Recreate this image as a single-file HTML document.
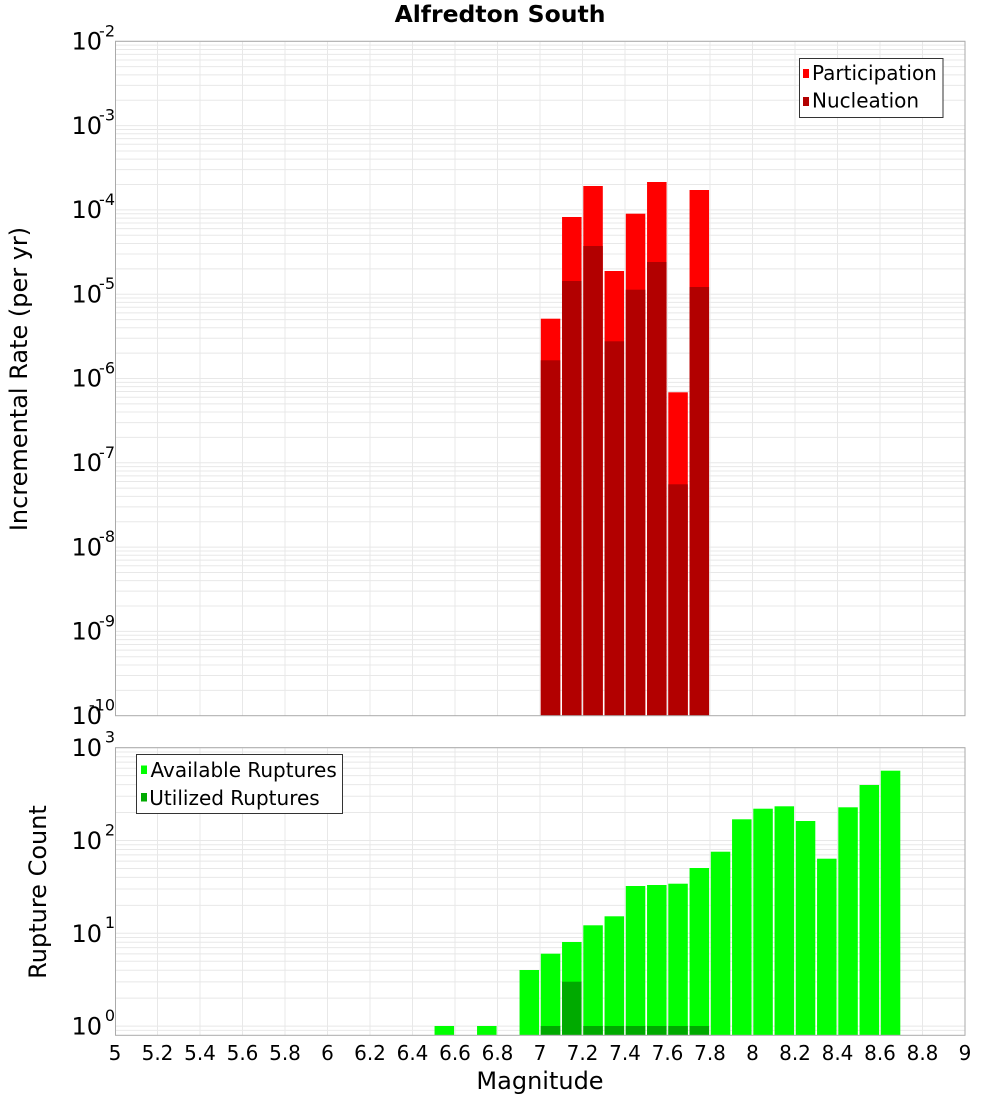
<!DOCTYPE html>
<html><head><meta charset="utf-8"><style>
html,body{margin:0;padding:0;background:#fff;}
svg{display:block;}
text{font-family:"DejaVu Sans","Liberation Sans",sans-serif;fill:#000;}
</style></head><body>
<svg width="1000" height="1100" viewBox="0 0 1000 1100" xmlns="http://www.w3.org/2000/svg">
<defs>
<g id="decT" stroke="#e8e8e8" stroke-width="1">
<line x1="115" x2="965" y1="0" y2="0"/>
<line x1="115" x2="965" y1="3.86" y2="3.86"/>
<line x1="115" x2="965" y1="8.17" y2="8.17"/>
<line x1="115" x2="965" y1="13.06" y2="13.06"/>
<line x1="115" x2="965" y1="18.70" y2="18.70"/>
<line x1="115" x2="965" y1="25.38" y2="25.38"/>
<line x1="115" x2="965" y1="33.55" y2="33.55"/>
<line x1="115" x2="965" y1="44.08" y2="44.08"/>
<line x1="115" x2="965" y1="58.92" y2="58.92"/>
</g>
<g id="decB" stroke="#e8e8e8" stroke-width="1">
<line x1="115" x2="965" y1="0" y2="0"/>
<line x1="115" x2="965" y1="4.25" y2="4.25"/>
<line x1="115" x2="965" y1="8.99" y2="8.99"/>
<line x1="115" x2="965" y1="14.38" y2="14.38"/>
<line x1="115" x2="965" y1="20.59" y2="20.59"/>
<line x1="115" x2="965" y1="27.94" y2="27.94"/>
<line x1="115" x2="965" y1="36.93" y2="36.93"/>
<line x1="115" x2="965" y1="48.52" y2="48.52"/>
<line x1="115" x2="965" y1="64.86" y2="64.86"/>
</g>
</defs>

<rect x="0" y="0" width="1000" height="1100" fill="#fff"/>

<!-- title -->
<text x="500" y="22" font-size="23.5" font-weight="bold" text-anchor="middle">Alfredton South</text>

<!-- top plot grid -->
<use href="#decT" y="41.3"/>
<use href="#decT" y="125.6"/>
<use href="#decT" y="209.9"/>
<use href="#decT" y="294.2"/>
<use href="#decT" y="378.5"/>
<use href="#decT" y="462.8"/>
<use href="#decT" y="547.1"/>
<use href="#decT" y="631.4"/>

<!-- bottom plot grid -->
<use href="#decB" y="747.7"/>
<use href="#decB" y="840.5"/>
<use href="#decB" y="933.3"/>
<g stroke="#e8e8e8" stroke-width="1">
<line x1="115" x2="965" y1="1026.1" y2="1026.1"/>
<line x1="115" x2="965" y1="1030.35" y2="1030.35"/>
</g>

<!-- vertical grid -->
<g stroke="#e8e8e8" stroke-width="1">
<path d="M157.5 41.3V715.7M200 41.3V715.7M242.5 41.3V715.7M285 41.3V715.7M327.5 41.3V715.7M370 41.3V715.7M412.5 41.3V715.7M455 41.3V715.7M497.5 41.3V715.7M540 41.3V715.7M582.5 41.3V715.7M625 41.3V715.7M667.5 41.3V715.7M710 41.3V715.7M752.5 41.3V715.7M795 41.3V715.7M837.5 41.3V715.7M880 41.3V715.7M922.5 41.3V715.7"/>
<path d="M157.5 747.7V1035.3M200 747.7V1035.3M242.5 747.7V1035.3M285 747.7V1035.3M327.5 747.7V1035.3M370 747.7V1035.3M412.5 747.7V1035.3M455 747.7V1035.3M497.5 747.7V1035.3M540 747.7V1035.3M582.5 747.7V1035.3M625 747.7V1035.3M667.5 747.7V1035.3M710 747.7V1035.3M752.5 747.7V1035.3M795 747.7V1035.3M837.5 747.7V1035.3M880 747.7V1035.3M922.5 747.7V1035.3"/>
</g>

<!-- top bars: participation -->
<g fill="#ff0000">
<rect x="540.8" y="318.7" width="19.5" height="397"/>
<rect x="562.05" y="217" width="19.5" height="498.7"/>
<rect x="583.3" y="186" width="19.5" height="529.7"/>
<rect x="604.55" y="271" width="19.5" height="444.7"/>
<rect x="625.8" y="213.7" width="19.5" height="502"/>
<rect x="647.05" y="182" width="19.5" height="533.7"/>
<rect x="668.3" y="392.3" width="19.5" height="323.4"/>
<rect x="689.55" y="190" width="19.5" height="525.7"/>
</g>
<!-- nucleation -->
<g fill="#b20000">
<rect x="540.8" y="360.3" width="19.5" height="355.4"/>
<rect x="562.05" y="281" width="19.5" height="434.7"/>
<rect x="583.3" y="246" width="19.5" height="469.7"/>
<rect x="604.55" y="341.3" width="19.5" height="374.4"/>
<rect x="625.8" y="289.7" width="19.5" height="426"/>
<rect x="647.05" y="262" width="19.5" height="453.7"/>
<rect x="668.3" y="484.3" width="19.5" height="231.4"/>
<rect x="689.55" y="287" width="19.5" height="428.7"/>
</g>

<!-- bottom bars: available -->
<g fill="#00ff00">
<rect x="434.55" y="1026" width="19.5" height="9.3"/>
<rect x="477.05" y="1026" width="19.5" height="9.3"/>
<rect x="519.55" y="970" width="19.5" height="65.3"/>
<rect x="540.8" y="953.7" width="19.5" height="81.6"/>
<rect x="562.05" y="942" width="19.5" height="93.3"/>
<rect x="583.3" y="925.3" width="19.5" height="110"/>
<rect x="604.55" y="916.3" width="19.5" height="119"/>
<rect x="625.8" y="886" width="19.5" height="149.3"/>
<rect x="647.05" y="885" width="19.5" height="150.3"/>
<rect x="668.3" y="883.7" width="19.5" height="151.6"/>
<rect x="689.55" y="868" width="19.5" height="167.3"/>
<rect x="710.8" y="851.7" width="19.5" height="183.6"/>
<rect x="732.05" y="819.3" width="19.5" height="216"/>
<rect x="753.3" y="808.7" width="19.5" height="226.6"/>
<rect x="774.55" y="806.3" width="19.5" height="229"/>
<rect x="795.8" y="821" width="19.5" height="214.3"/>
<rect x="817.05" y="858.7" width="19.5" height="176.6"/>
<rect x="838.3" y="807.3" width="19.5" height="228"/>
<rect x="859.55" y="785" width="19.5" height="250.3"/>
<rect x="880.8" y="770.7" width="19.5" height="264.6"/>
</g>
<!-- utilized -->
<g fill="#00aa00">
<rect x="540.8" y="1026" width="19.5" height="9.3"/>
<rect x="562.05" y="981.7" width="19.5" height="53.6"/>
<rect x="583.3" y="1026" width="19.5" height="9.3"/>
<rect x="604.55" y="1026" width="19.5" height="9.3"/>
<rect x="625.8" y="1026" width="19.5" height="9.3"/>
<rect x="647.05" y="1026" width="19.5" height="9.3"/>
<rect x="668.3" y="1026" width="19.5" height="9.3"/>
<rect x="689.55" y="1026" width="19.5" height="9.3"/>
</g>

<!-- plot borders -->
<rect x="115.5" y="41.3" width="849.5" height="674.4" fill="none" stroke="#aaaaaa" stroke-width="1"/>
<rect x="115.5" y="747.7" width="849.5" height="287.6" fill="none" stroke="#aaaaaa" stroke-width="1"/>

<!-- top legend -->
<rect x="799.5" y="58.5" width="143.5" height="59" fill="#fff" stroke="#333" stroke-width="1"/>
<rect x="803" y="69" width="6" height="9" fill="#ff0000"/>
<rect x="803" y="97" width="6" height="9" fill="#b20000"/>
<text x="812" y="80" font-size="20">Participation</text>
<text x="812" y="107.5" font-size="20">Nucleation</text>

<!-- bottom legend -->
<rect x="136.5" y="754.5" width="206" height="59" fill="#fff" stroke="#333" stroke-width="1"/>
<rect x="141" y="765.5" width="6" height="8.5" fill="#00ff00"/>
<rect x="141" y="793" width="6" height="8.5" fill="#00aa00"/>
<text x="150.5" y="777" font-size="20">Available Ruptures</text>
<text x="149.3" y="805" font-size="20">Utilized Ruptures</text>

<!-- top y tick labels -->
<g font-size="24">
<text x="71.5" y="49.5">10</text>
<text x="71.5" y="133.8">10</text>
<text x="71.5" y="218.1">10</text>
<text x="71.5" y="302.4">10</text>
<text x="71.5" y="386.7">10</text>
<text x="71.5" y="471">10</text>
<text x="71.5" y="555.3">10</text>
<text x="71.5" y="639.6">10</text>
<text x="71.5" y="723.9">10</text>
</g>
<g font-size="16" text-anchor="end">
<text x="115" y="36.3">-2</text>
<text x="115" y="120.6">-3</text>
<text x="115" y="204.9">-4</text>
<text x="115" y="289.2">-5</text>
<text x="115" y="373.5">-6</text>
<text x="115" y="457.8">-7</text>
<text x="115" y="542.1">-8</text>
<text x="115" y="626.4">-9</text>
<text x="115" y="710.7">-10</text>
</g>

<!-- bottom y tick labels -->
<g font-size="24">
<text x="71.5" y="756.2">10</text>
<text x="71.5" y="849">10</text>
<text x="71.5" y="941.8">10</text>
<text x="71.5" y="1034.6">10</text>
</g>
<g font-size="16" text-anchor="end">
<text x="115" y="742.5">3</text>
<text x="115" y="835.3">2</text>
<text x="115" y="928.1">1</text>
<text x="115" y="1020.9">0</text>
</g>

<!-- x tick labels -->
<g font-size="20" text-anchor="middle">
<text x="115" y="1060">5</text>
<text x="157.5" y="1060">5.2</text>
<text x="200" y="1060">5.4</text>
<text x="242.5" y="1060">5.6</text>
<text x="285" y="1060">5.8</text>
<text x="327.5" y="1060">6</text>
<text x="370" y="1060">6.2</text>
<text x="412.5" y="1060">6.4</text>
<text x="455" y="1060">6.6</text>
<text x="497.5" y="1060">6.8</text>
<text x="540" y="1060">7</text>
<text x="582.5" y="1060">7.2</text>
<text x="625" y="1060">7.4</text>
<text x="667.5" y="1060">7.6</text>
<text x="710" y="1060">7.8</text>
<text x="752.5" y="1060">8</text>
<text x="795" y="1060">8.2</text>
<text x="837.5" y="1060">8.4</text>
<text x="880" y="1060">8.6</text>
<text x="922.5" y="1060">8.8</text>
<text x="965" y="1060">9</text>
</g>

<!-- axis titles -->
<text x="540" y="1089" font-size="24" text-anchor="middle">Magnitude</text>
<text transform="translate(27,379) rotate(-90)" font-size="24" text-anchor="middle">Incremental Rate (per yr)</text>
<text transform="translate(46,892) rotate(-90)" font-size="24" text-anchor="middle">Rupture Count</text>
</svg>
</body></html>
